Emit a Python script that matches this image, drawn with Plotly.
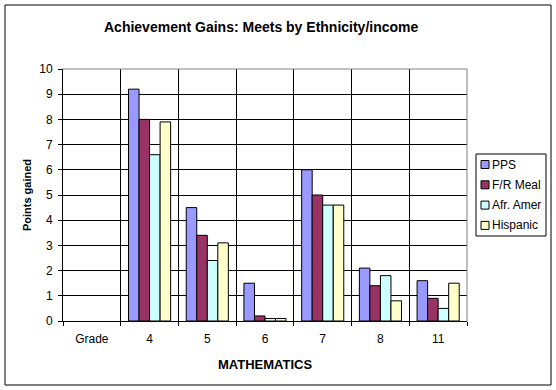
import plotly.graph_objects as go

categories = ["Grade", "4", "5", "6", "7", "8", "11"]
pps = [None, 9.2, 4.5, 1.5, 6.0, 2.1, 1.6]
fr_meal = [None, 8.0, 3.4, 0.2, 5.0, 1.4, 0.9]
afr_amer = [None, 6.6, 2.4, 0.1, 4.6, 1.8, 0.5]
hispanic = [None, 7.9, 3.1, 0.1, 4.6, 0.8, 1.5]

series_names = ["PPS", "F/R Meal", "Afr. Amer", "Hispanic"]
series_values = [pps, fr_meal, afr_amer, hispanic]
series_colors = ["#9999FF", "#993366", "#CCFFFF", "#FFFFCC"]

font = "Liberation Sans, Arial, sans-serif"
fig = go.Figure()
for name, vals, col in zip(series_names, series_values, series_colors):
    fig.add_trace(go.Bar(x=categories, y=vals, name=name, showlegend=False,
                         marker=dict(color=col, line=dict(color="black", width=1))))

L, R, T, B = 63, 89, 69, 69
W, H = 556, 390
pw, ph = W - L - R, H - T - B
def px(x):
    return (x - L) / pw
def py(y):
    return (H - B - y) / ph

fig.update_layout(
    width=W, height=H,
    margin=dict(l=L, r=R, t=T, b=B, autoexpand=False),
    paper_bgcolor="white", plot_bgcolor="white",
    barmode="group", bargap=0.27, bargroupgap=0,
    font=dict(family=font, size=12, color="black"),
    showlegend=False,
    xaxis=dict(type="category", tickson="boundaries", showgrid=True,
               gridcolor="black", gridwidth=1, ticks="outside", ticklen=4,
               tickcolor="black", showline=True, linecolor="black",
               ticklabelstandoff=7, tickfont=dict(size=12),
               title=dict(text="<b>MATHEMATICS</b>", font=dict(size=13), standoff=14)),
    yaxis=dict(range=[0, 10], dtick=1, showgrid=True, gridcolor="black",
               gridwidth=1, ticks="outside", ticklen=4, tickcolor="black",
               showline=True, linecolor="black", zeroline=False,
               ticklabelstandoff=3, tickfont=dict(size=12),
               title=dict(text="<b>Points gained</b>", font=dict(size=11), standoff=5)),
)
fig.add_annotation(text="<b>Achievement Gains: Meets by Ethnicity/income</b>",
                   xref="paper", yref="paper", x=px(261), y=py(27),
                   xanchor="center", yanchor="middle", showarrow=False,
                   font=dict(size=14, family=font))
# gray top/right plot frame
fig.add_shape(type="line", xref="x domain", yref="y domain", x0=0, x1=1, y0=1, y1=1,
              line=dict(color="#808080", width=1))
fig.add_shape(type="line", xref="x domain", yref="y domain", x0=1, x1=1, y0=0, y1=1,
              line=dict(color="#808080", width=1))
# outer chart border
fig.add_shape(type="rect", xref="paper", yref="paper", x0=px(5), x1=px(551),
              y0=py(385), y1=py(5), line=dict(color="black", width=1))
# legend box
fig.add_shape(type="rect", xref="paper", yref="paper", x0=px(476), x1=px(546),
              y0=py(236), y1=py(154), line=dict(color="black", width=1),
              fillcolor="white")
for i, (name, col) in enumerate(zip(series_names, series_colors)):
    cy = 164.5 + 20.3 * i
    fig.add_shape(type="rect", xref="paper", yref="paper", x0=px(481), x1=px(489),
                  y0=py(cy + 4), y1=py(cy - 4), line=dict(color="black", width=1),
                  fillcolor=col)
    fig.add_annotation(text=name, xref="paper", yref="paper", x=px(489.5), y=py(cy),
                       xanchor="left", yanchor="middle", showarrow=False,
                       font=dict(size=12, family=font))

fig.write_html("out.html", config={"displayModeBar": False},
               post_script="document.body.style.margin='0';document.body.style.overflow='hidden';")
